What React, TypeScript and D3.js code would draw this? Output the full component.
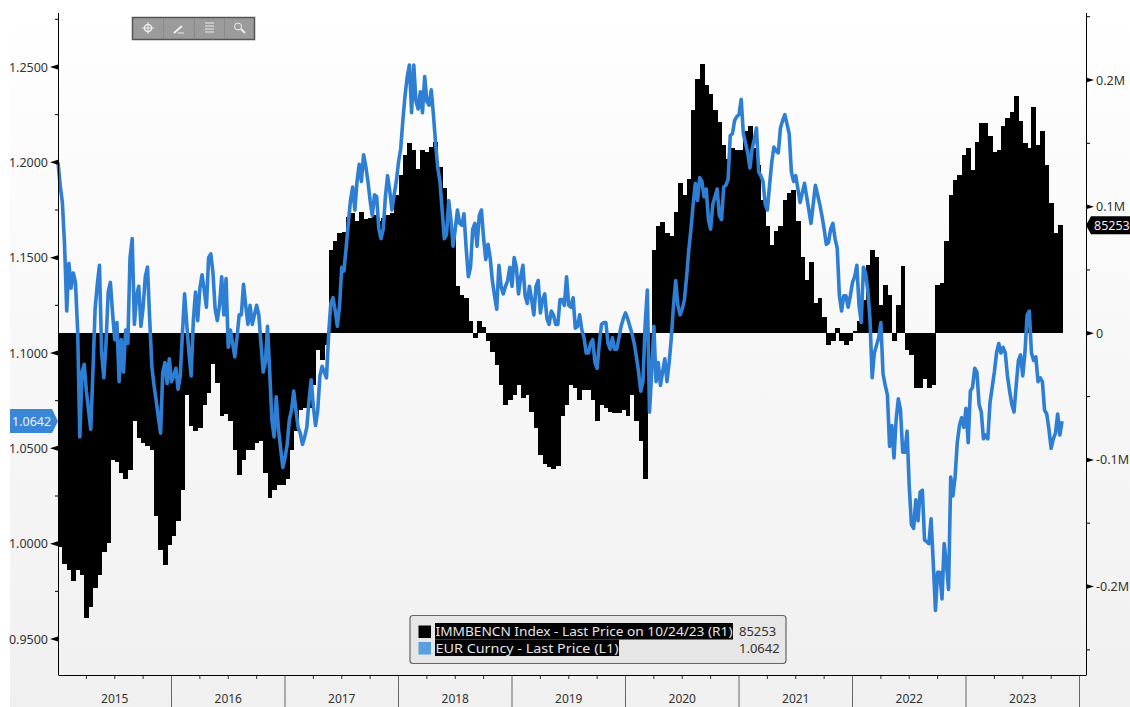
import { scaleLinear, line, format } from "d3";

const years = [2015, 2016, 2017, 2018, 2019, 2020, 2021, 2022, 2023];
const priceTicks = [1.25, 1.2, 1.15, 1.1, 1.05, 1.0, 0.95];
const priceMinorTicks = [1.275, 1.225, 1.175, 1.125, 1.075, 1.025, 0.975];
const positionTicks = [200, 100, 0, -100, -200];
const positionMinorTicks = [250, 150, 50, -50, -150, -250];

// net positions in thousands of contracts, one reading every two weeks
const cftc2015 = [-169, -182, -187, -196, -187, -191, -225, -216, -201, -191, -173, -166, -100, -102, -110, -115, -108, -69, -83, -87, -89, -92, -144, -171, -183, -167];
const cftc2016 = [-160, -148, -124, -49, -73, -77, -75, -57, -47, -24, -39, -65, -64, -69, -92, -112, -100, -92, -92, -87, -85, -110, -130, -124, -120, -120];
const cftc2017 = [-115, -92, -77, -61, -59, -59, -41, -13, -21, -9, 66, 73, 79, 80, 92, 95, 89, 96, 90, 91, 93, 89, 91, 93, 95, 109];
const cftc2018 = [125, 141, 150, 145, 130, 145, 143, 147, 151, 131, 115, 101, 77, 37, 30, 28, 10, -4, 10, 5, -6, -15, -25, -41, -57, -53];
const cftc2019 = [-49, -41, -51, -49, -62, -75, -96, -103, -106, -107, -105, -65, -57, -41, -43, -53, -45, -45, -53, -69, -57, -59, -62, -63, -63, -61];
const cftc2020 = [-65, -49, -69, -85, -115, -49, 66, 85, 88, 79, 77, 96, 119, 109, 122, 176, 201, 213, 196, 189, 176, 167, 149, 138, 146, 145];
const cftc2021 = [145, 160, 164, 146, 133, 105, 85, 70, 81, 85, 105, 111, 113, 89, 60, 42, 56, 24, 28, 13, -9, -6, 4, -6, -9, -6];
const cftc2022 = [2, 10, 26, 54, 66, 60, 22, 38, 30, -6, 22, 53, -13, -17, -43, -43, -36, -43, -41, 38, 40, 73, 109, 121, 125, 141];
const cftc2023 = [146, 129, 151, 166, 166, 156, 143, 145, 164, 170, 175, 187, 168, 150, 146, 179, 149, 160, 133, 103, 79, 85.253];

// EUR spot, weekly
const eur2015 = [1.2, 1.188, 1.179, 1.157, 1.122, 1.147, 1.134, 1.142, 1.137, 1.112, 1.056, 1.09, 1.094, 1.08, 1.07, 1.06, 1.09, 1.123, 1.136, 1.146, 1.1, 1.087, 1.105, 1.132, 1.137, 1.121, 1.107, 1.116, 1.085, 1.107, 1.09, 1.112, 1.105, 1.15, 1.16, 1.115, 1.13, 1.135, 1.114, 1.124, 1.14, 1.145, 1.118, 1.093, 1.083, 1.075, 1.066, 1.058, 1.09, 1.095, 1.084, 1.097];
const eur2016 = [1.085, 1.088, 1.092, 1.081, 1.088, 1.11, 1.131, 1.115, 1.1, 1.088, 1.117, 1.132, 1.117, 1.134, 1.141, 1.133, 1.124, 1.15, 1.152, 1.142, 1.123, 1.117, 1.125, 1.14, 1.12, 1.139, 1.103, 1.112, 1.105, 1.098, 1.108, 1.12, 1.12, 1.136, 1.125, 1.115, 1.125, 1.115, 1.12, 1.125, 1.12, 1.105, 1.09, 1.095, 1.114, 1.09, 1.065, 1.056, 1.077, 1.06, 1.05, 1.04];
const eur2017 = [1.045, 1.052, 1.065, 1.07, 1.08, 1.07, 1.061, 1.058, 1.052, 1.056, 1.061, 1.075, 1.086, 1.072, 1.062, 1.07, 1.088, 1.093, 1.09, 1.087, 1.11, 1.126, 1.129, 1.122, 1.114, 1.125, 1.145, 1.143, 1.155, 1.168, 1.18, 1.187, 1.175, 1.19, 1.199, 1.19, 1.204, 1.198, 1.19, 1.18, 1.172, 1.183, 1.182, 1.165, 1.16, 1.165, 1.182, 1.193, 1.185, 1.175, 1.183, 1.19];
const eur2018 = [1.2, 1.207, 1.222, 1.235, 1.245, 1.251, 1.226, 1.251, 1.232, 1.228, 1.237, 1.226, 1.245, 1.232, 1.23, 1.238, 1.225, 1.21, 1.197, 1.19, 1.175, 1.16, 1.162, 1.18, 1.17, 1.156, 1.165, 1.175, 1.168, 1.167, 1.173, 1.155, 1.14, 1.145, 1.165, 1.168, 1.156, 1.172, 1.175, 1.16, 1.149, 1.157, 1.15, 1.138, 1.13, 1.123, 1.146, 1.135, 1.131, 1.135, 1.138, 1.145];
const eur2019 = [1.135, 1.15, 1.145, 1.131, 1.14, 1.146, 1.13, 1.126, 1.135, 1.128, 1.12, 1.135, 1.138, 1.121, 1.128, 1.131, 1.118, 1.115, 1.122, 1.12, 1.115, 1.115, 1.128, 1.128, 1.125, 1.14, 1.125, 1.124, 1.129, 1.113, 1.114, 1.12, 1.112, 1.108, 1.1, 1.1, 1.105, 1.107, 1.095, 1.092, 1.105, 1.115, 1.116, 1.116, 1.105, 1.102, 1.108, 1.102, 1.102, 1.108, 1.114, 1.118];
const eur2020 = [1.121, 1.118, 1.114, 1.11, 1.105, 1.098, 1.09, 1.08, 1.085, 1.115, 1.133, 1.069, 1.09, 1.114, 1.085, 1.095, 1.083, 1.09, 1.097, 1.085, 1.095, 1.108, 1.125, 1.138, 1.125, 1.12, 1.123, 1.128, 1.14, 1.154, 1.165, 1.178, 1.189, 1.18, 1.192, 1.19, 1.182, 1.186, 1.17, 1.165, 1.178, 1.182, 1.186, 1.172, 1.17, 1.187, 1.188, 1.191, 1.214, 1.215, 1.222, 1.224];
const eur2021 = [1.225, 1.233, 1.215, 1.21, 1.205, 1.197, 1.207, 1.212, 1.218, 1.195, 1.193, 1.19, 1.178, 1.175, 1.188, 1.2, 1.208, 1.206, 1.205, 1.218, 1.222, 1.225, 1.22, 1.215, 1.195, 1.19, 1.193, 1.186, 1.179, 1.184, 1.189, 1.182, 1.175, 1.168, 1.178, 1.188, 1.183, 1.178, 1.172, 1.165, 1.157, 1.158, 1.165, 1.168, 1.16, 1.155, 1.13, 1.122, 1.13, 1.13, 1.124, 1.13];
const eur2022 = [1.137, 1.14, 1.146, 1.125, 1.116, 1.145, 1.142, 1.133, 1.118, 1.087, 1.1, 1.104, 1.108, 1.116, 1.089, 1.083, 1.078, 1.051, 1.062, 1.045, 1.065, 1.076, 1.07, 1.048, 1.048, 1.059, 1.03, 1.01, 1.008, 1.023, 1.012, 1.027, 1.028, 1.002, 1.001, 1.0, 1.013, 0.99, 0.965, 0.985, 0.985, 0.971, 1.0, 0.99, 0.976, 1.035, 1.025, 1.035, 1.053, 1.062, 1.066, 1.061];
const eur2023 = [1.071, 1.053, 1.08, 1.082, 1.092, 1.09, 1.073, 1.069, 1.055, 1.057, 1.055, 1.074, 1.082, 1.09, 1.1, 1.105, 1.1, 1.103, 1.1, 1.088, 1.08, 1.073, 1.069, 1.083, 1.096, 1.099, 1.088, 1.1, 1.12, 1.122, 1.1, 1.096, 1.098, 1.085, 1.087, 1.085, 1.07, 1.068, 1.06, 1.05, 1.055, 1.058, 1.068, 1.057, 1.0642];

const cftc = [cftc2015, cftc2016, cftc2017, cftc2018, cftc2019, cftc2020, cftc2021, cftc2022, cftc2023].flat();
const eur = [eur2015, eur2016, eur2017, eur2018, eur2019, eur2020, eur2021, eur2022, eur2023].flat();

const FONT = "'Noto Sans', 'Open Sans', sans-serif";
const axisBottomY = 675;
const axisLeftX = 58.5;
const axisRightX = 1086.5;

const x = scaleLinear().domain([0, 468]).range([58, 1079.5]);
const yPrice = scaleLinear().domain([0.95, 1.25]).range([639, 67]);
const yPos = scaleLinear().domain([-200, 200]).range([586.5, 80]);

const eurLine = line<number>()
  .x((_, i) => x(i))
  .y((d) => yPrice(d));

const fmtPrice = format(".4f");
const fmtPos = (v: number) => (v === 0 ? "0" : `${v / 1000}M`);

const Toolbar = () => (
  <g>
    <rect x={132.5} y={17.5} width={122} height={22} fill="#9b9b9b" stroke="#555" strokeWidth={1.5} />
    {[163.5, 194.5, 224.5].map((v) => (
      <line key={v} x1={v} x2={v} y1={19} y2={38} stroke="#8a8a8a" />
    ))}
    <g stroke="#eee" strokeWidth={1.5} fill="none">
      <circle cx={148} cy={28} r={3.5} />
      <path d="M148 22v12M142 28h12" strokeWidth={1} />
      <path d="M174 33l8-7" strokeWidth={2} />
      <path d="M178 33h6" strokeWidth={1} />
      <path d="M205 23h9M205 26h9M205 29h9M205 32h9" strokeWidth={1} />
      <circle cx={238} cy={26.5} r={3.5} strokeWidth={1} />
      <path d="M241 29l4 4" strokeWidth={2} />
    </g>
  </g>
);

export default function App() {
  return (
    <svg
      width={1130}
      height={707}
      style={{ position: "absolute", left: 0, top: 0, display: "block", fontFamily: FONT }}
    >
      <defs>
        <linearGradient id="bg" x1="0" x2="0" y1="0" y2="1">
          <stop offset="0" stopColor="#ffffff" />
          <stop offset="1" stopColor="#f0f0f0" />
        </linearGradient>
      </defs>
      <rect width={1130} height={707} fill="#fff" />
      <rect x={10} y={0} width={1120} height={707} fill="url(#bg)" />

      {/* positions, drawn first so the price line sits on top */}
      <g shapeRendering="crispEdges">
        {cftc.map((v, i) => {
          const x0 = x(i * 2);
          const x1 = x((i + 1) * 2);
          const y0 = yPos(Math.max(v, 0));
          const y1 = yPos(Math.min(v, 0));
          return <rect key={i} x={x0} width={x1 - x0 + 0.5} y={y0} height={y1 - y0} fill="#000" />;
        })}
      </g>

      <path d={eurLine(eur) ?? ""} fill="none" stroke="#2e7fd3" strokeWidth={3.6} strokeLinejoin="round" />

      {/* axes */}
      <g stroke="#000" strokeWidth={1}>
        <line x1={axisLeftX} x2={axisLeftX} y1={13} y2={axisBottomY} />
        <line x1={axisRightX} x2={axisRightX} y1={13} y2={axisBottomY} />
        <line x1={axisLeftX} x2={axisRightX} y1={axisBottomY + 0.5} y2={axisBottomY + 0.5} />
        {priceMinorTicks.map((t) => (
          <line key={t} x1={55} x2={axisLeftX} y1={yPrice(t)} y2={yPrice(t)} />
        ))}
        {positionMinorTicks.map((t) => (
          <line key={t} x1={axisRightX} x2={1090} y1={yPos(t)} y2={yPos(t)} />
        ))}
      </g>

      {priceTicks.map((t) => {
        const y = yPrice(t);
        return (
          <g key={t}>
            <path d={`M50 ${y}L58 ${y - 2.5}V${y + 2.5}Z`} fill="#000" />
            <text x={48} y={y + 4.5} textAnchor="end" fontSize={12.5} fill="#333">
              {fmtPrice(t)}
            </text>
          </g>
        );
      })}
      {positionTicks.map((t) => {
        const y = yPos(t);
        return (
          <g key={t}>
            <path d={`M1094 ${y}L1086 ${y - 2.5}V${y + 2.5}Z`} fill="#000" />
            <text x={1096} y={y + 4.5} fontSize={12.5} fill="#333">
              {fmtPos(t)}
            </text>
          </g>
        );
      })}

      {/* time axis */}
      {years.map((year, i) => {
        const start = x(i * 52);
        return (
          <g key={year}>
            {i > 0 && <line x1={start} x2={start} y1={676} y2={707} stroke="#666" />}
            {[13, 26, 39].map((w) => (
              <line key={w} x1={x(i * 52 + w)} x2={x(i * 52 + w)} y1={676} y2={679} stroke="#333" />
            ))}
            <text x={x(i * 52 + 26)} y={702.5} textAnchor="middle" fontSize={12} fill="#333">
              {year}
            </text>
          </g>
        );
      })}
      <line x1={x(468)} x2={x(468)} y1={676} y2={707} stroke="#666" />

      {/* last value tags */}
      <path d={`M10 409H52L58 ${yPrice(1.0642)}L52 433H10Z`} fill="#3a86d6" />
      <text x={12} y={yPrice(1.0642) + 4.5} fontSize={12.5} fill="#e8f2fc">
        1.0642
      </text>
      <path d={`M1086 ${yPos(85.253)}L1091 ${yPos(85.253) - 9}H1130V${yPos(85.253) + 9}H1091Z`} fill="#000" />
      <text x={1094} y={yPos(85.253) + 4.5} fontSize={12.5} fill="#f0f0f0">
        85253
      </text>

      <Toolbar />

      {/* legend */}
      <g>
        <rect x={410} y={615.5} width={376} height={48} rx={3} fill="#e6e6e6" stroke="#666" strokeWidth={1.2} />
        <rect x={418.5} y={625.5} width={12.5} height={12.5} fill="#000" />
        <rect x={418.5} y={642} width={12.5} height={12.5} fill="#5b9fe0" />
        <rect x={435} y={623} width={298} height={16.5} fill="#000" />
        <rect x={435} y={639.5} width={184} height={16.5} fill="#000" />
        <text x={435.5} y={636} fontSize={13} fill="#e4e4e4" textLength={297} lengthAdjust="spacingAndGlyphs">
          IMMBENCN Index - Last Price on 10/24/23 (R1)
        </text>
        <text x={435.5} y={653} fontSize={13} fill="#e4e4e4" textLength={183} lengthAdjust="spacingAndGlyphs">
          EUR Curncy - Last Price (L1)
        </text>
        <text x={739} y={636} fontSize={13} fill="#333">
          85253
        </text>
        <text x={739} y={653} fontSize={13} fill="#333">
          1.0642
        </text>
      </g>
    </svg>
  );
}
